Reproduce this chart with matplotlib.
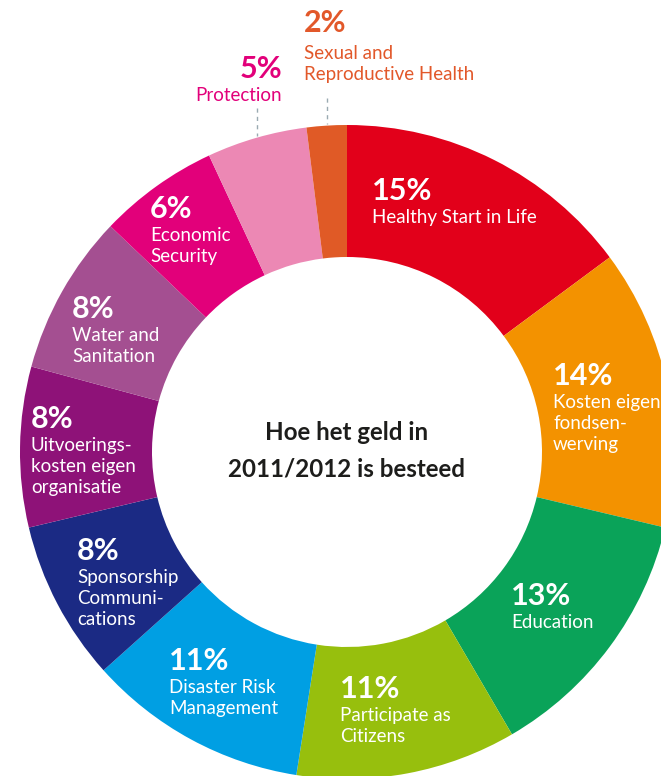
import matplotlib.pyplot as plt

# besteding 2011/2012, clockwise from 12 o'clock
shares = [15, 14, 13, 11, 11, 8, 8, 8, 6, 5, 2]
pct_labels = ['15%', '14%', '13%', '11%', '11%', '8%', '8%', '8%', '6%', '5%', '2%']
names = ['Healthy Start in Life',
         'Kosten eigen\nfondsen-\nwerving',
         'Education',
         'Participate as\nCitizens',
         'Disaster Risk\nManagement',
         'Sponsorship\nCommuni-\ncations',
         'Uitvoerings-\nkosten eigen\norganisatie',
         'Water and\nSanitation',
         'Economic\nSecurity',
         'Protection',
         'Sexual and\nReproductive Health']
colors = ['#E2001A', '#F39200', '#0AA359', '#97BF0D', '#009FE3', '#1B2A84',
          '#8E1278', '#A44F91', '#E2007A', '#EC88B4', '#E05A26']
title = 'Hoe het geld in\n2011/2012 is besteed'

W, H = 661, 776
fig = plt.figure(figsize=(W / 100, H / 100), dpi=100)
ax = fig.add_axes([0, 0, 1, 1])

cx, cy, R = 347, H - 452, 327
ax.pie(shares, colors=colors, startangle=90, counterclock=False,
       center=(cx, cy), radius=R,
       wedgeprops=dict(width=132, linewidth=0))
ax.set_xlim(0, W)
ax.set_ylim(0, H)
ax.set_aspect('equal')
ax.axis('off')

FONT = 'Lato'
# label anchor (x, y of the percentage) in pixels from top-left
spots = [(372, 191), (553, 376), (511, 596), (340, 689), (169, 661),
         (77, 551), (31, 419), (72, 309), (150, 209), (282, 69), (304, 23)]

for i, (x, y) in enumerate(spots):
    col = 'white'
    ha = 'left'
    gap = 18
    if i == 9:
        col, ha = '#E2007A', 'right'
    if i == 10:
        col, gap = '#E2582A', 22
    ax.text(x, H - y, pct_labels[i], fontsize=22, fontweight='bold',
            family=FONT, color=col, ha=ha, va='center')
    ax.text(x, H - y - gap, names[i], fontsize=13.5, family=FONT,
            color=col, ha=ha, va='top', linespacing=1.3)

# leader lines for the two small slices
ax.plot([257, 257], [H - 108, H - 136], ls=(0, (3, 3)), color='#9AAAB2', lw=1)
ax.plot([327, 327], [H - 98, H - 124], ls=(0, (3, 3)), color='#9AAAB2', lw=1)

ax.text(cx, cy + 1, title, fontsize=17.4, fontweight='bold', family=FONT,
        color='#1D1D1B', ha='center', va='center', linespacing=1.72)

fig.savefig('out.png', dpi=100)
